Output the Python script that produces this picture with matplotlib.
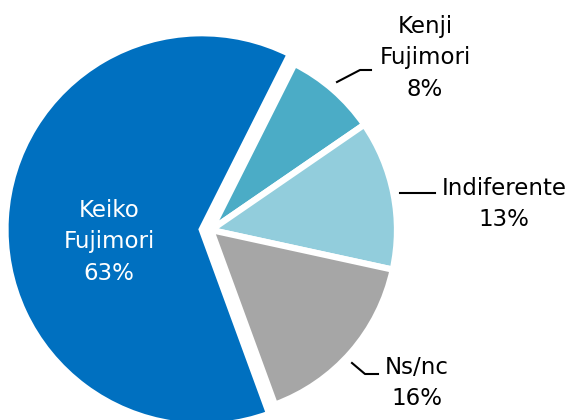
import matplotlib
matplotlib.use('Agg')
from matplotlib import pyplot as plt

# data
labels = ['Kenji\nFujimori', 'Indiferente', 'Ns/nc', 'Keiko\nFujimori']
values = [8, 13, 16, 63]
colors = ['#4BACC6', '#92CDDC', '#A6A6A6', '#0070C0']

W, H = 573, 420
cx, cy, R = 211, 230, 186  # pie centre and radius in pixels


def px(x, y):
    # pixel position (from top-left) -> data coords
    return (x - cx) / R, (cy - y) / R


fig = plt.figure(figsize=(W / 100, H / 100), dpi=100)
ax = fig.add_axes([0, 0, 1, 1])

wedges, _ = ax.pie(values, colors=colors, startangle=63.3, counterclock=False,
                   explode=[0, 0, 0, 0.05], radius=1.0,
                   wedgeprops=dict(edgecolor='white', linewidth=4.5))
wedges[3].set_radius(1.055)

ax.set_xlim(-cx / R, (W - cx) / R)
ax.set_ylim(-(H - cy) / R, cy / R)
ax.set_aspect('equal')
ax.axis('off')

fs = 16.5
txt = dict(fontsize=fs, ha='center', va='center', family='DejaVu Sans', linespacing=1.45)

# Keiko inside
ax.text(*px(109, 242), labels[3] + '\n' + str(values[3]) + '%', color='white', **txt)
# Kenji
ax.text(*px(425, 58), labels[0] + '\n' + str(values[0]) + '%', color='black', **txt)
ax.plot(*zip(px(337, 82), px(360, 70), px(371, 70)), color='black', lw=1.5)
# Indiferente
ax.text(*px(504, 204), labels[1] + '\n' + str(values[1]) + '%', color='black', **txt)
ax.plot(*zip(px(400, 193), px(435, 193)), color='black', lw=1.5)
# Ns/nc
ax.text(*px(417, 383), labels[2] + '\n' + str(values[2]) + '%', color='black', **txt)
ax.plot(*zip(px(352, 363), px(365, 374), px(378, 374)), color='black', lw=1.5)

plt.savefig('out.png', dpi=100)
